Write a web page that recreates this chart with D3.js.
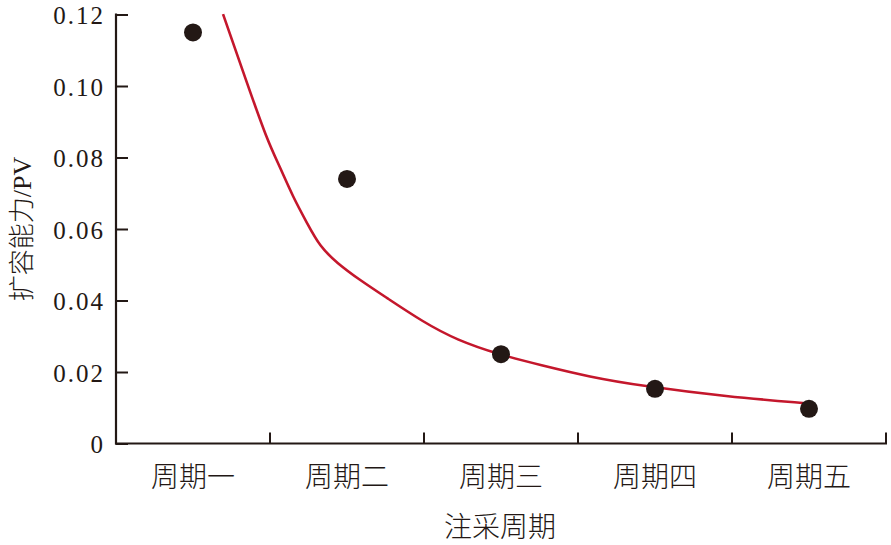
<!DOCTYPE html>
<html>
<head>
<meta charset="utf-8">
<script src="https://cdn.jsdelivr.net/npm/d3@7"></script>
<style>
  body { margin: 0; background: #fff; }
  text { fill: #231815; }
</style>
</head>
<body>
<svg id="chart" width="891" height="545"></svg>
<script>
// data
const categories = ['周期一', '周期二', '周期三', '周期四', '周期五'];
const pointValues = [0.115, 0.074, 0.025, 0.0153, 0.0097];
const yTicks = [0, 0.02, 0.04, 0.06, 0.08, 0.10, 0.12];
// fitted curve: position in category units (0 = first category centre) and value
const curveX = [0.195, 0.351, 0.481, 0.565, 0.649, 0.740, 0.825, 0.935, 1.084, 1.260, 1.494, 1.714, 1.994, 2.253, 2.578, 2.903, 3.468, 3.994];
const curveY = [0.1201, 0.1008, 0.0849, 0.0773, 0.0690, 0.0617, 0.0550, 0.0505, 0.0457, 0.0407, 0.0340, 0.0289, 0.0248, 0.0220, 0.0186, 0.0162, 0.0131, 0.0112];

const svg = d3.select('#chart');
const mLeft = 116, mRight = 886, mTop = 14.5, mBottom = 443.5;
const ink = '#231815';

const xBand = d3.scaleBand().domain(categories).range([mLeft, mRight]);
const xLin = d3.scaleLinear().domain([-0.5, categories.length - 0.5]).range([mLeft, mRight]);
const y = d3.scaleLinear().domain([0, 0.12]).range([mBottom, mTop]);

// y axis
const yAxis = svg.append('g')
    .attr('transform', `translate(${mLeft},0)`)
    .call(d3.axisRight(y).tickValues(yTicks).tickSize(12)
        .tickFormat(d => d === 0 ? '0' : d3.format('.2f')(d)));
yAxis.select('.domain').remove();
yAxis.selectAll('.tick line').attr('stroke', ink).attr('stroke-width', 2);
yAxis.selectAll('.tick text')
    .attr('x', -11).attr('dy', '0.36em').attr('text-anchor', 'end')
    .style('letter-spacing', '2px')
    .style('font-family', '"Liberation Serif", serif').style('font-size', '25px');
svg.append('line').attr('x1', mLeft).attr('x2', mLeft).attr('y1', mTop - 1).attr('y2', mBottom + 1)
    .attr('stroke', ink).attr('stroke-width', 2.2);

// x axis
svg.append('line').attr('x1', mLeft - 1).attr('x2', mRight + 1).attr('y1', mBottom).attr('y2', mBottom)
    .attr('stroke', ink).attr('stroke-width', 2.2);
svg.selectAll('.xtick')
    .data(categories)
    .enter().append('line')
    .attr('class', 'xtick')
    .attr('x1', d => xBand(d) + xBand.bandwidth())
    .attr('x2', d => xBand(d) + xBand.bandwidth())
    .attr('y1', mBottom).attr('y2', mBottom - 11)
    .attr('stroke', ink).attr('stroke-width', 2);
svg.selectAll('.xlabel')
    .data(categories)
    .enter().append('text')
    .attr('class', 'xlabel')
    .attr('x', d => xBand(d) + xBand.bandwidth() / 2)
    .attr('y', 487)
    .attr('text-anchor', 'middle')
    .style('font-family', '"Noto Sans CJK SC", sans-serif').style('font-size', '28px')
    .style('font-weight', 300)
    .text(d => d);

// axis titles
svg.append('text')
    .attr('x', (mLeft + mRight) / 2 - 1).attr('y', 537)
    .attr('text-anchor', 'middle')
    .style('font-family', '"Noto Sans CJK SC", sans-serif').style('font-size', '28px')
    .style('font-weight', 300)
    .text('注采周期');
svg.append('text')
    .attr('transform', 'translate(31,229) rotate(-90)')
    .attr('text-anchor', 'middle')
    .style('font-size', '26px')
    .selectAll('tspan')
    .data([['扩容能力', '"Noto Sans CJK SC", sans-serif', 300], ['/PV', '"Liberation Serif", serif', 400]])
    .enter().append('tspan')
    .style('font-family', d => d[1]).style('font-weight', d => d[2])
    .text(d => d[0]);

// fitted curve
const line = d3.line()
    .x((d, i) => xLin(curveX[i]))
    .y(d => y(d))
    .curve(d3.curveBasis);
svg.append('path')
    .datum(curveY)
    .attr('d', line)
    .attr('fill', 'none')
    .attr('stroke', '#c4172c')
    .attr('stroke-width', 2.6);

// measured points
svg.selectAll('.pt')
    .data(pointValues)
    .enter().append('circle')
    .attr('class', 'pt')
    .attr('cx', (d, i) => xBand(categories[i]) + xBand.bandwidth() / 2)
    .attr('cy', d => y(d))
    .attr('r', 9)
    .attr('fill', ink);
</script>
</body>
</html>
